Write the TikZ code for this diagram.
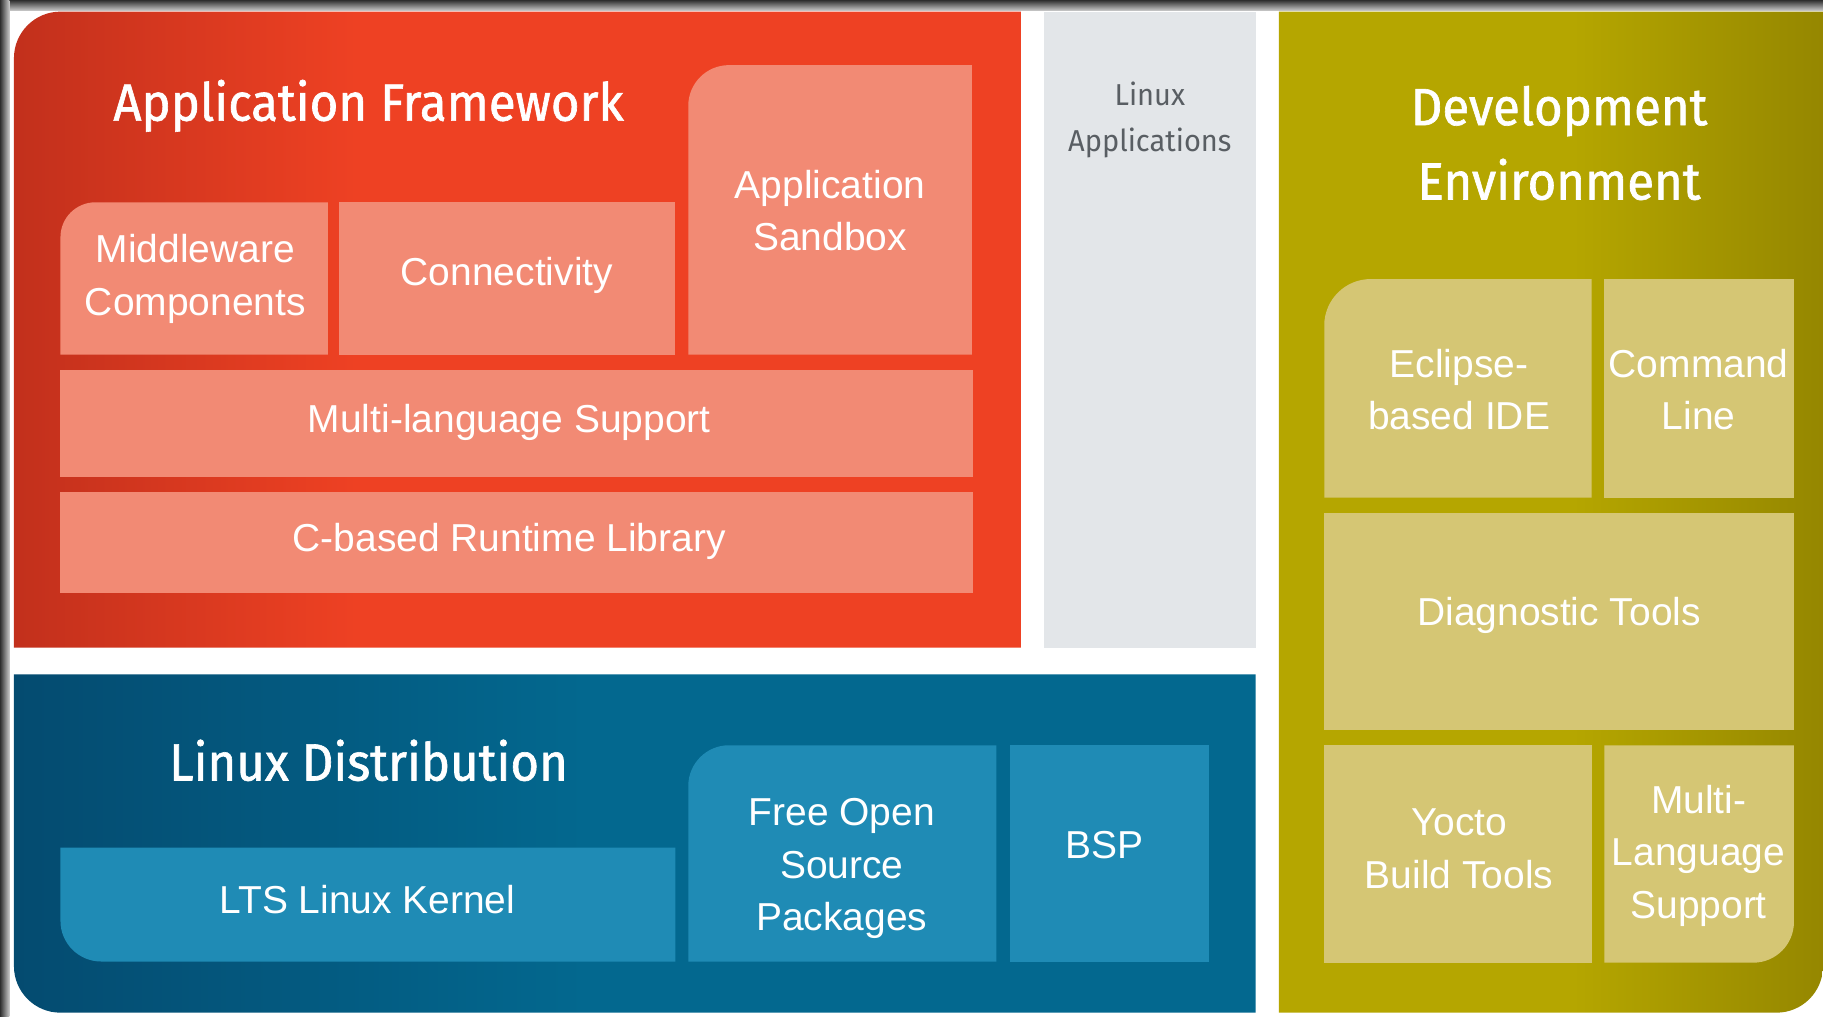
\documentclass[tikz,border=0pt]{standalone}
\usepackage{fontspec}
\setmainfont{Liberation Sans}
\newfontfamily\titlefont[FakeBold=1.2,FakeStretch=0.94]{Fira Sans}
\newfontfamily\labfont[FakeStretch=0.96]{Fira Sans}
\definecolor{redL}{HTML}{C2301C}
\definecolor{redR}{HTML}{EE4123}
\definecolor{salmon}{HTML}{F28A74}
\definecolor{grayCol}{HTML}{E3E6E9}
\definecolor{blueL}{HTML}{044B70}
\definecolor{blueR}{HTML}{03688F}
\definecolor{blueBox}{HTML}{1F8BB5}
\definecolor{oliveL}{HTML}{B5A600}
\definecolor{oliveR}{HTML}{958700}
\definecolor{oliveBox}{HTML}{D5C674}
\definecolor{appText}{HTML}{595E63}
\definecolor{frameDark}{HTML}{2E2E2E}
\definecolor{frameLight}{HTML}{C8C8C8}
\pgfdeclarehorizontalshading{redsh}{100bp}{color(0bp)=(redL); color(25bp)=(redL); color(42bp)=(redR); color(100bp)=(redR)}
\pgfdeclarehorizontalshading{bluesh}{100bp}{color(0bp)=(blueL); color(25bp)=(blueL); color(48bp)=(blueR); color(100bp)=(blueR)}
\pgfdeclarehorizontalshading{olivesh}{100bp}{color(0bp)=(oliveL); color(52bp)=(oliveL); color(75bp)=(oliveR); color(100bp)=(oliveR)}
\begin{document}
\begin{tikzpicture}[x=0.5pt,y=-0.5pt,
  boxtext/.style={text=white, font=\fontsize{16.75}{22.5}\selectfont, align=center, inner sep=0pt},
  titletext/.style={text=white, font=\titlefont\fontsize{22.5}{32}\selectfont, align=center, inner sep=0pt},
  apptext/.style={text=appText, font=\labfont\fontsize{13}{20}\selectfont, align=center, inner sep=0pt},
  redbox/.style={fill=salmon},
  bluebox/.style={fill=blueBox},
  olivebox/.style={fill=oliveBox}]
\useasboundingbox (0,0) rectangle (1568,874);
\fill[white] (0,0) rectangle (1568,874);
% frame edges
\shade[top color=frameDark, bottom color=frameLight] (0,0) rectangle (1568,9);
\shade[left color=frameDark, right color=frameLight] (0,0) rectangle (8,874);
% main panels
\shade[shading=redsh] (12,557) -- (12,50) arc[start angle=180,end angle=270,radius=40] -- (878,10) -- (878,557) -- cycle;
\fill[grayCol] (898,10) rectangle (1080,557);
\shade[shading=olivesh] (1100,10) -- (1568,10) -- (1568,831) arc[start angle=0,end angle=90,radius=40] -- (1100,871) -- cycle;
\shade[shading=bluesh] (12,580) -- (12,831) arc[start angle=180,end angle=90,radius=40] -- (1080,871) -- (1080,580) -- cycle;
% red inner boxes
\fill[redbox] (52,305) -- (52,204) arc[start angle=180,end angle=270,radius=30] -- (282,174) -- (282,305) -- cycle;
\fill[redbox] (292,174) rectangle (581,305);
\fill[redbox] (592,305) -- (592,91) arc[start angle=180,end angle=270,radius=35] -- (836,56) -- (836,305) -- cycle;
\fill[redbox] (52,318) rectangle (837,410);
\fill[redbox] (52,423) rectangle (837,510);
% blue inner boxes
\fill[bluebox] (52,729) -- (52,792) arc[start angle=180,end angle=90,radius=35] -- (581,827) -- (581,729) -- cycle;
\fill[bluebox] (592,827) -- (592,676) arc[start angle=180,end angle=270,radius=35] -- (857,641) -- (857,827) -- cycle;
\fill[bluebox] (869,641) rectangle (1040,827);
% olive inner boxes
\fill[olivebox] (1139,428) -- (1139,280) arc[start angle=180,end angle=270,radius=40] -- (1369,240) -- (1369,428) -- cycle;
\fill[olivebox] (1380,240) rectangle (1543,428);
\fill[olivebox] (1139,441) rectangle (1543,628);
\fill[olivebox] (1139,641) rectangle (1369,828);
\fill[olivebox] (1380,641) -- (1543,641) -- (1543,793) arc[start angle=0,end angle=90,radius=35] -- (1380,828) -- cycle;
% titles
\node[titletext] (afT) at (317,91) {Application Framework};
\node[titletext] (ldT) at (317,654) {Linux Distribution};
\node[titletext] (deT) at (1341,123) {Development\\Environment};
\node[apptext] (laT) at (989,103) {Linux\\Applications};
% box labels
\node[boxtext] (mw) at (168,240) {Middleware\\Components};
\node[boxtext] (conn) at (436,237) {Connectivity};
\node[boxtext] (sand) at (714,181) {Application\\Sandbox};
\node[boxtext] (mls) at (438,363) {Multi-language Support};
\node[boxtext] (crt) at (438,466) {C-based Runtime Library};
\node[boxtext] (lts) at (316,774) {LTS Linux Kernel};
\node[boxtext] (foss) at (724,747) {Free Open\\Source\\Packages};
\node[boxtext] (bsp) at (950,727) {BSP};
\node[boxtext] (ide) at (1255,335) {Eclipse-\\based IDE};
\node[boxtext] (cmd) at (1461,335) {Command\\Line};
\node[boxtext] (diag) at (1341,529) {Diagnostic Tools};
\node[boxtext] (yocto) at (1255,730) {Yocto\\Build Tools};
\node[boxtext] (mlang) at (1461,736) {Multi-\\Language\\Support};
\end{tikzpicture}
\end{document}
